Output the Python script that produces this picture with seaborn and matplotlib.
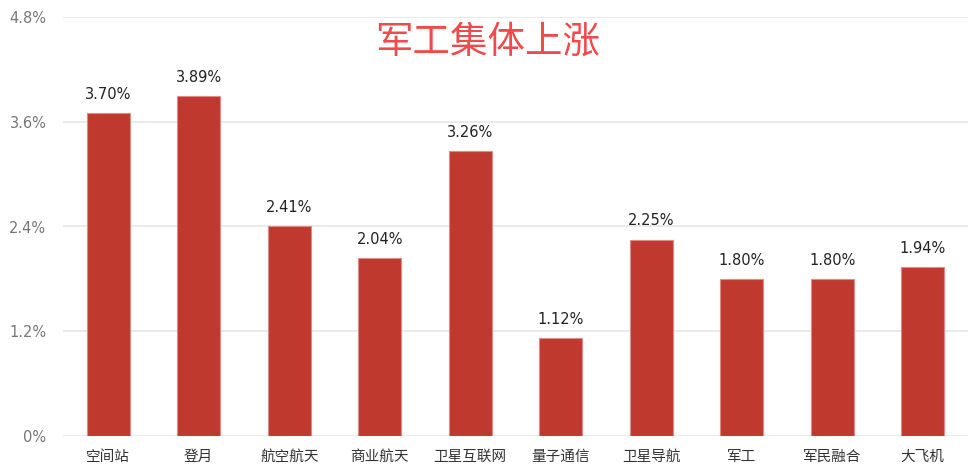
import pandas as pd
import seaborn as sns
import matplotlib.pyplot as plt
from matplotlib.ticker import FixedLocator

categories = ['空间站', '登月', '航空航天', '商业航天', '卫星互联网',
              '量子通信', '卫星导航', '军工', '军民融合', '大飞机']
changes = [3.70, 3.89, 2.41, 2.04, 3.26, 1.12, 2.25, 1.80, 1.80, 1.94]
y_ticks = [0, 1.2, 2.4, 3.6, 4.8]
y_tick_labels = ['0%', '1.2%', '2.4%', '3.6%', '4.8%']
title = '军工集体上涨'

df = pd.DataFrame({'板块': categories, '涨幅': changes})

sns.set_style('white')
plt.rcParams['font.family'] = ['Noto Sans CJK SC', 'DejaVu Sans']

fig = plt.figure(figsize=(9.68, 4.73), dpi=100)
ax = fig.add_axes([63 / 968, 1 - 436 / 473, 905 / 968, 419 / 473])

sns.barplot(x='板块', y='涨幅', data=df, ax=ax, color='#C0392F',
            width=0.475, saturation=1, edgecolor='#E08A85', linewidth=0.8)

ax.set_ylim(0, 4.8)
ax.set_xlim(-0.5, len(categories) - 0.5)
ax.yaxis.set_major_locator(FixedLocator(y_ticks))
ax.set_yticklabels(y_tick_labels, color='#777777', fontsize=10.5,
                   family=['DejaVu Sans'])
ax.grid(axis='y', color='#E6E6E6', linewidth=1.2)
ax.set_axisbelow(True)
for s in ax.spines.values():
    s.set_visible(False)
ax.tick_params(axis='y', length=0, pad=12)
ax.tick_params(axis='x', length=0, pad=10, labelsize=10.5, labelcolor='#333333')
ax.set_xlabel('')
ax.set_ylabel('')

for i, v in enumerate(changes):
    ax.annotate(f'{v:.2f}%', (i, v), xytext=(0, 8), textcoords='offset points',
                ha='center', va='bottom', fontsize=10.5, color='#222222',
                family=['DejaVu Sans'])

fig.text(488 / 968, 1 - 42 / 473, title, ha='center', va='center',
         fontsize=27, color='#F04A4C')

fig.savefig('out.png', dpi=100)
